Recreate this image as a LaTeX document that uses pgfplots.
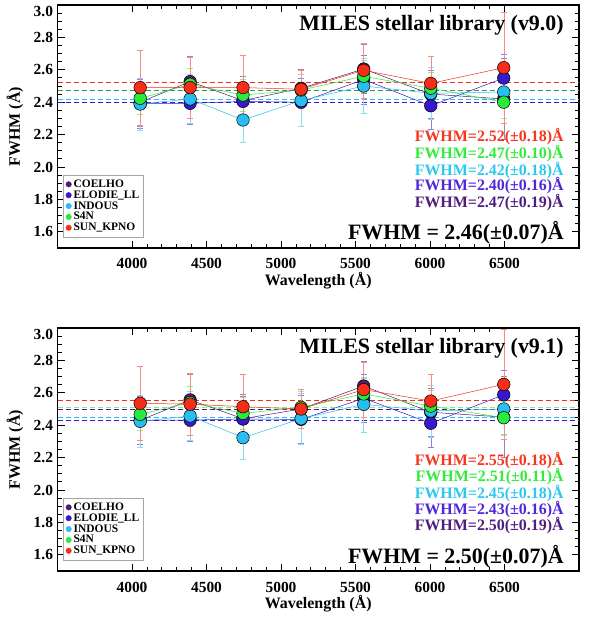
\documentclass[border=0pt]{standalone}
\usepackage{fontspec}
\setmainfont{Liberation Serif}
\usepackage{pgfplots}
\usepackage{pgfplotstable}
\pgfplotsset{compat=1.18}

\definecolor{cco}{RGB}{85,25,115}
\definecolor{cel}{RGB}{55,25,205}
\definecolor{cin}{RGB}{40,190,240}
\definecolor{cs4}{RGB}{40,235,60}
\definecolor{csu}{RGB}{245,45,25}
\definecolor{tco}{RGB}{80,30,125}
\definecolor{tel}{RGB}{80,40,220}
\definecolor{tin}{RGB}{45,200,240}
\definecolor{ts4}{RGB}{50,235,60}
\definecolor{tsu}{RGB}{245,55,30}

% x  COELHO  ELODIE  INDOUS  S4N  SUN_KPNO  (value, error)
\pgfplotstableread{
x    c     ce    e     ee    i     ie    s     se    k     ke
4055 2.400 0.15  2.390 0.15  2.389 0.16  2.424 0.10  2.490 0.23
4390 2.527 0.16  2.393 0.13  2.420 0.15  2.510 0.10  2.490 0.19
4745 2.410 0.15  2.405 0.14  2.290 0.135 2.444 0.10  2.490 0.20
5135 2.486 0.12  2.400 0.15  2.410 0.16  2.475 0.10  2.480 0.12
5555 2.605 0.15  2.540 0.15  2.500 0.17  2.560 0.10  2.597 0.17
6005 2.450 0.15  2.378 0.145 2.455 0.16  2.486 0.10  2.516 0.165
6495 2.420 0.25  2.549 0.15  2.463 0.16  2.400 0.10  2.613 0.34
}\topdata

\pgfplotstableread{
x    c     ce    e     ee    i     ie    s     se    k     ke
4055 2.430 0.15  2.430 0.15  2.424 0.16  2.467 0.10  2.535 0.23
4390 2.556 0.16  2.432 0.13  2.457 0.15  2.540 0.10  2.530 0.19
4745 2.440 0.15  2.438 0.14  2.323 0.135 2.473 0.10  2.514 0.20
5135 2.500 0.12  2.436 0.15  2.440 0.16  2.510 0.10  2.500 0.12
5555 2.642 0.15  2.566 0.15  2.529 0.17  2.593 0.10  2.620 0.17
6005 2.480 0.15  2.412 0.145 2.488 0.16  2.518 0.10  2.549 0.165
6495 2.450 0.25  2.588 0.15  2.500 0.16  2.446 0.10  2.652 0.34
}\botdata

\pgfplotsset{
  panel/.style={
    scale only axis, width=521.5bp, height=243bp,
    xmin=3500, xmax=7000, ymin=1.5, ymax=3.0,
    xtick={4000,4500,5000,5500,6000,6500},
    ytick={1.6,1.8,2.0,2.2,2.4,2.6,2.8,3.0},
    yticklabels={1.6,1.8,2.0,2.2,2.4,2.6,2.8,\raisebox{-12bp}[0pt][0pt]{3.0}},
    minor x tick num=4, minor y tick num=3,
    major tick length=7bp, minor tick length=4bp,
    tick align=inside,
    axis line style={line width=1.1bp},
    every tick/.style={black, line width=0.8bp},
    /pgf/number format/assume math mode=true,
    xticklabel style={/pgf/number format/set thousands separator={}},
    tick label style={font=\bfseries\fontsize{15.5}{16}\selectfont},
    x tick label style={anchor=base, yshift=-21bp},
    y tick label style={anchor=east, xshift=-1bp},
    xlabel={Wavelength (Å)}, ylabel={FWHM (Å)},
    label style={font=\bfseries\fontsize{16}{17}\selectfont},
    xlabel style={at={(axis description cs:0.5,-0.156)}, anchor=base},
    ylabel style={at={(axis description cs:-0.0815,0.5)}, anchor=center},
    legend style={at={(axis description cs:0.0105,0.045)}, anchor=south west,
      draw=gray!70, line width=0.5bp, font=\bfseries\fontsize{11.5}{12}\selectfont,
      row sep=-2.2bp, inner sep=2.5bp},
    legend cell align=left,
    legend image code/.code={\fill[#1] (0.3em,0) circle (2.7bp);},
  },
  ser/.style={line width=0.5bp, color=#1, mark=*, mark size=6.3,
    mark options={fill=#1, draw=black, line width=0.5bp, solid},
    error bars/.cd, y dir=both, y explicit,
    error bar style={line width=0.4bp, color=#1!55},
    error mark options={rotate=90, mark size=3bp, line width=0.4bp, color=#1!55},
    /pgfplots/.cd},
  avg/.style={dash pattern=on 5bp off 3bp, line width=0.8bp, color=#1, forget plot},
}
\tikzset{lab/.style={anchor=base east, inner sep=0pt, font=\bfseries\fontsize{16}{17}\selectfont},
         big/.style={anchor=base east, inner sep=0pt, font=\bfseries\fontsize{22}{24}\selectfont}}

\begin{document}
\begin{tikzpicture}
\useasboundingbox (0bp,0bp) rectangle (600bp,617bp);

% ---------- top panel ----------
\begin{axis}[panel, at={(57.5bp,369bp)}, anchor=south west]
\addlegendimage{cco}\addlegendentry{COELHO}
\addlegendimage{cel}\addlegendentry{ELODIE\_LL}
\addlegendimage{cin}\addlegendentry{INDOUS}
\addlegendimage{cs4}\addlegendentry{S4N}
\addlegendimage{csu}\addlegendentry{SUN\_KPNO}
\addplot[avg=cco] coordinates {(3500,2.47) (7000,2.47)};
\addplot[avg=cel] coordinates {(3500,2.40) (7000,2.40)};
\addplot[avg=cin] coordinates {(3500,2.42) (7000,2.42)};
\addplot[avg=cs4, opacity=0.6] coordinates {(3500,2.47) (7000,2.47)};
\addplot[avg=csu] coordinates {(3500,2.52) (7000,2.52)};
\addplot[forget plot, ser=cco] table[x=x, y=c, y error=ce] {\topdata};
\addplot[forget plot, ser=cel] table[x=x, y=e, y error=ee] {\topdata};
\addplot[forget plot, ser=cin] table[x=x, y=i, y error=ie] {\topdata};
\addplot[forget plot, ser=cs4] table[x=x, y=s, y error=se] {\topdata};
\addplot[forget plot, ser=csu] table[x=x, y=k, y error=ke] {\topdata};
\node[big] at (axis description cs:0.971,0.897) {MILES stellar library (v9.0)};
\node[lab, text=tsu] at (axis description cs:0.971,0.4375) {FWHM=2.52(±0.18)Å};
\node[lab, text=ts4] at (axis description cs:0.971,0.369) {FWHM=2.47(±0.10)Å};
\node[lab, text=tin] at (axis description cs:0.971,0.300) {FWHM=2.42(±0.18)Å};
\node[lab, text=tel] at (axis description cs:0.971,0.2346) {FWHM=2.40(±0.16)Å};
\node[lab, text=tco] at (axis description cs:0.971,0.1675) {FWHM=2.47(±0.19)Å};
\node[big] at (axis description cs:0.971,0.033) {FWHM = 2.46(±0.07)Å};
\end{axis}

% ---------- bottom panel ----------
\begin{axis}[panel, at={(57.5bp,46bp)}, anchor=south west]
\addlegendimage{cco}\addlegendentry{COELHO}
\addlegendimage{cel}\addlegendentry{ELODIE\_LL}
\addlegendimage{cin}\addlegendentry{INDOUS}
\addlegendimage{cs4}\addlegendentry{S4N}
\addlegendimage{csu}\addlegendentry{SUN\_KPNO}
\addplot[avg=cco] coordinates {(3500,2.50) (7000,2.50)};
\addplot[avg=cel] coordinates {(3500,2.43) (7000,2.43)};
\addplot[avg=cin] coordinates {(3500,2.45) (7000,2.45)};
\addplot[avg=cs4, opacity=0.6] coordinates {(3500,2.51) (7000,2.51)};
\addplot[avg=csu] coordinates {(3500,2.55) (7000,2.55)};
\addplot[forget plot, ser=cco] table[x=x, y=c, y error=ce] {\botdata};
\addplot[forget plot, ser=cel] table[x=x, y=e, y error=ee] {\botdata};
\addplot[forget plot, ser=cin] table[x=x, y=i, y error=ie] {\botdata};
\addplot[forget plot, ser=cs4] table[x=x, y=s, y error=se] {\botdata};
\addplot[forget plot, ser=csu] table[x=x, y=k, y error=ke] {\botdata};
\node[big] at (axis description cs:0.971,0.896) {MILES stellar library (v9.1)};
\node[lab, text=tsu] at (axis description cs:0.971,0.436) {FWHM=2.55(±0.18)Å};
\node[lab, text=ts4] at (axis description cs:0.971,0.3675) {FWHM=2.51(±0.11)Å};
\node[lab, text=tin] at (axis description cs:0.971,0.299) {FWHM=2.45(±0.18)Å};
\node[lab, text=tel] at (axis description cs:0.971,0.233) {FWHM=2.43(±0.16)Å};
\node[lab, text=tco] at (axis description cs:0.971,0.166) {FWHM=2.50(±0.19)Å};
\node[big] at (axis description cs:0.971,0.032) {FWHM = 2.50(±0.07)Å};
\end{axis}
\end{tikzpicture}
\end{document}
